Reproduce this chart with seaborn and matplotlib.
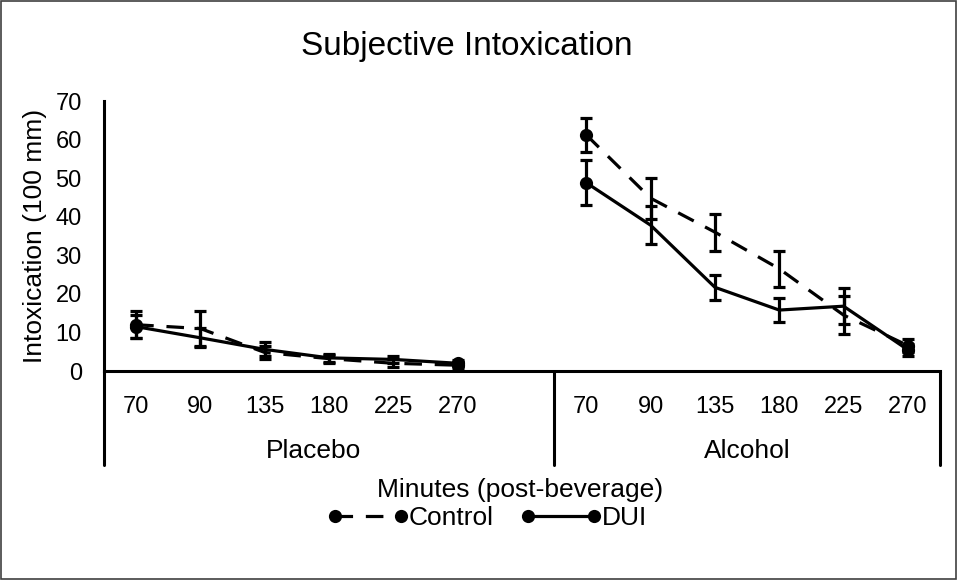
import matplotlib
matplotlib.use("Agg")
import matplotlib.pyplot as plt
from matplotlib.lines import Line2D
from matplotlib.patches import Rectangle
import matplotlib.transforms as mtransforms
import seaborn as sns
import pandas as pd

minutes = ["70", "90", "135", "180", "225", "270"]
groups = ["Placebo", "Alcohol"]

placebo_control = [12, 11, 4.8, 3.2, 2.0, 1.5]
placebo_control_err = [3.5, 4.5, 1.8, 1.0, 1.0, 0.8]
placebo_dui = [11.5, 8.6, 5.6, 3.4, 3.0, 2.0]
placebo_dui_err = [3.0, 2.5, 1.8, 1.0, 1.0, 0.8]

alcohol_control = [61.2, 44.8, 36.0, 26.5, 14.5, 6.6]
alcohol_control_err = [4.5, 5.3, 4.8, 4.7, 5.0, 1.8]
alcohol_dui = [48.8, 37.8, 21.7, 15.8, 16.8, 5.5]
alcohol_dui_err = [5.8, 4.9, 3.2, 3.0, 4.6, 1.5]

sns.set_theme(style="white")
plt.rcParams["font.family"] = ["Liberation Sans", "DejaVu Sans"]
plt.rcParams["text.color"] = "black"
plt.rcParams["axes.labelcolor"] = "black"

# x slots: placebo 0..5, blank slot 6, alcohol 7..12
xpos = {"Placebo": list(range(6)), "Alcohol": list(range(7, 13))}
rows = []
for grp, c, ce, d, de in [("Placebo", placebo_control, placebo_control_err, placebo_dui, placebo_dui_err),
                          ("Alcohol", alcohol_control, alcohol_control_err, alcohol_dui, alcohol_dui_err)]:
    for i in range(6):
        rows.append(dict(group=grp, cond="Control", x=xpos[grp][i], y=c[i], err=ce[i]))
        rows.append(dict(group=grp, cond="DUI", x=xpos[grp][i], y=d[i], err=de[i]))
df = pd.DataFrame(rows)

fig = plt.figure(figsize=(9.58, 5.8), dpi=100)
ax = fig.add_axes([104 / 958, 209 / 580, 836 / 958, 270 / 580])

lw = 2.3
ms = 9.5
sns.lineplot(data=df, x="x", y="y", style="cond", units="group", estimator=None,
             color="black", dashes={"Control": (5.5, 4), "DUI": ""},
             markers={"Control": "o", "DUI": "o"}, markevery=[0, 5],
             markersize=ms, linewidth=lw, markeredgewidth=0, legend=False, ax=ax, sort=False)

for cond in ["Control", "DUI"]:
    sub = df[df.cond == cond]
    ax.errorbar(sub.x, sub.y, yerr=sub.err, fmt="none", ecolor="black",
                elinewidth=2.3, capsize=4.5, capthick=2.3, zorder=3)

word_fs = 19
ax.set_xlim(-0.5, 12.5)
ax.set_ylim(0, 70)
ax.set_yticks(range(0, 71, 10))
ax.set_xticks(xpos["Placebo"] + xpos["Alcohol"])
ax.set_xticklabels(minutes + minutes)
ax.tick_params(axis="both", length=0, labelsize=17, colors="black")
ax.tick_params(axis="x", pad=18)
ax.tick_params(axis="y", pad=16)
ax.set_xlabel("")
ax.set_ylabel("Intoxication (100 mm)", fontsize=word_fs, labelpad=6)

for s in ["top", "right"]:
    ax.spines[s].set_visible(False)
for s in ["left", "bottom"]:
    ax.spines[s].set_color("black")
    ax.spines[s].set_linewidth(2.2)

trans = mtransforms.blended_transform_factory(ax.transData, ax.transAxes)
depth = -94 / 270
for xv in [-0.5, 6.5, 12.5]:
    ax.plot([xv, xv], [0, depth], transform=trans, color="black", lw=2.2, clip_on=False)
ax.text(2.75, -80 / 270, groups[0], transform=trans, ha="center", va="center", fontsize=word_fs)
ax.text(9.5, -80 / 270, groups[1], transform=trans, ha="center", va="center", fontsize=word_fs)

fig.text(520 / 958, 1 - 490 / 580, "Minutes (post-beverage)", ha="center", va="center", fontsize=word_fs)
fig.text(467 / 958, 1 - 47 / 580, "Subjective Intoxication", ha="center", va="center", fontsize=24)

handles = [
    Line2D([], [], color="black", lw=lw, dashes=(5.5, 4), marker="o", markersize=ms, markeredgewidth=0),
    Line2D([], [], color="black", lw=lw, marker="o", markersize=ms, markeredgewidth=0),
]
fig.legend(handles, ["Control", "DUI"], loc="center", bbox_to_anchor=(487 / 958, 1 - 518 / 580),
           ncol=2, frameon=False, fontsize=word_fs, numpoints=2, handlelength=3.1,
           handletextpad=0.0, columnspacing=1.0)

fig.patches.append(Rectangle((0.001, 0.002), 0.997, 0.996, transform=fig.transFigure,
                             fill=False, edgecolor="#404040", lw=1.2))

fig.savefig("out.png", dpi=100)
